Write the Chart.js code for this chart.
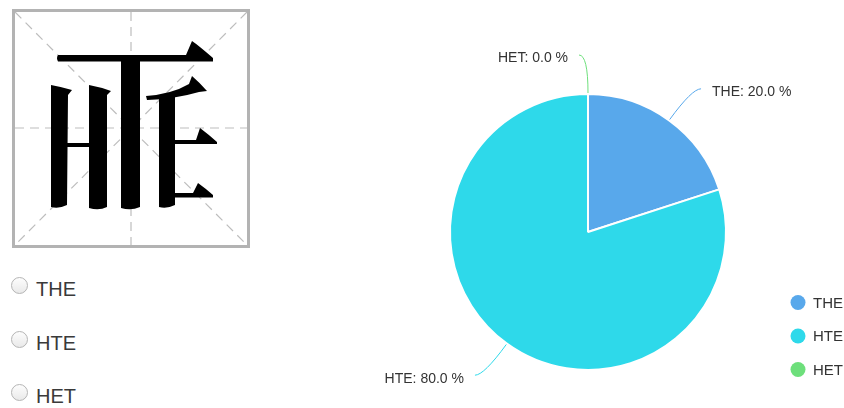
<!DOCTYPE html>
<html>
<head>
<meta charset="utf-8">
<script src="https://cdn.jsdelivr.net/npm/chart.js@4"></script>
<style>
    html, body { margin: 0; padding: 0; background: #fff; }
    body { width: 844px; height: 408px; position: relative; overflow: hidden; font-family: "Liberation Sans", Arial, sans-serif; }
    #glyph { position: absolute; left: 0; top: 0; }
    .option { position: absolute; left: 11px; height: 20px; line-height: 20px; font-size: 20px; color: #3a3a3a; }
    .option input {
        -webkit-appearance: none; appearance: none; margin: 0;
        position: absolute; left: 0; top: -2px; width: 17px; height: 17px;
        border: 1px solid #b5b5b5; border-radius: 50%; box-sizing: border-box;
        background: linear-gradient(#fdfdfd, #e9e9e9);
    }
    .option span { position: absolute; left: 25px; top: 0; white-space: nowrap; }
    #chartBox { position: absolute; left: 310px; top: 0; width: 534px; height: 408px; }
</style>
</head>
<body>
<svg id="glyph" width="260" height="260" viewBox="0 0 260 260">
    <g stroke="#bdbdbd" stroke-width="1.2" stroke-dasharray="9 6" fill="none">
        <line x1="15" y1="12" x2="247" y2="245"/>
        <line x1="247" y1="12" x2="15" y2="245"/>
        <line x1="131" y1="12" x2="131" y2="245"/>
        <line x1="15" y1="128" x2="247" y2="128"/>
    </g>
    <rect x="13.5" y="10.5" width="235" height="236" fill="none" stroke="#b3b3b3" stroke-width="3"/>
    <g fill="#000">
        <!-- top bar with rising serif -->
        <path d="M58,55 L186,55 L192,41 Q198,45 213,58 L213,61.5 L58,61.5 Q56,58 58,55 Z"/>
        <!-- central vertical -->
        <path d="M121,61 L140,61 L140,207 Q131,211 121,208 Z"/>
        <!-- H left -->
        <path d="M51,85 Q62,87 72,90 L68,95 L67,205 Q59,209 51,207 Z"/>
        <!-- H right -->
        <path d="M89,85 Q100,87 111,91 L107,95 L107,207 Q99,211 89,208 Z"/>
        <!-- H crossbar -->
        <rect x="66" y="143" width="24" height="4"/>
        <!-- E vertical -->
        <path d="M159,97 L175,95 L175,205 Q167,209 159,207 Z"/>
        <!-- E top sweep -->
        <path d="M146,96 Q172,94 189,84 L192,76 Q199,82 207,91 L199,92 Q175,99 147,100 Z"/>
        <!-- E middle -->
        <path d="M175,140 L196,140 L200,128 Q208,134 217,142 L217,144 L175,144 Z"/>
        <!-- E bottom -->
        <path d="M175,193 L193,193 L198,183 Q205,188 213,195 L213,197.5 L175,197.5 Z"/>
    </g>
</svg>

<label class="option" style="top:279px;"><input type="radio" name="ans"><span>THE</span></label>
<label class="option" style="top:333px;"><input type="radio" name="ans"><span>HTE</span></label>
<label class="option" style="top:386px;"><input type="radio" name="ans"><span>HET</span></label>

<div id="chartBox"><canvas id="pieChart" width="534" height="408"></canvas></div>

<script>
const categories = ['THE', 'HTE', 'HET'];
const percentValues = [20.0, 80.0, 0.0];
const sliceColors = ['#58a8eb', '#2ed9ea', '#6ddf7b'];

// leader lines + outside labels, drawn from each arc element
const outsideLabels = {
    id: 'outsideLabels',
    afterDatasetsDraw(chart) {
        const ctx = chart.ctx;
        const meta = chart.getDatasetMeta(0);
        ctx.save();
        ctx.font = '14px "Liberation Sans", Arial, sans-serif';
        ctx.textBaseline = 'middle';
        meta.data.forEach((arc, i) => {
            const { x, y, startAngle, endAngle, outerRadius } = arc.getProps(['x', 'y', 'startAngle', 'endAngle', 'outerRadius'], true);
            const mid = (startAngle + endAngle) / 2;
            const cos = Math.cos(mid), sin = Math.sin(mid);
            const right = cos > 1e-6;
            const dir = right ? 1 : -1;
            const p0 = { x: x + cos * (outerRadius + 1), y: y + sin * (outerRadius + 1) };
            const p1 = { x: p0.x + cos * 38, y: p0.y + sin * 38 };
            const p2 = { x: p1.x + dir * 9, y: p1.y };
            ctx.strokeStyle = sliceColors[i];
            ctx.lineWidth = 1;
            ctx.beginPath();
            ctx.moveTo(p0.x, p0.y);
            ctx.quadraticCurveTo(p1.x, p1.y, p2.x, p2.y);
            ctx.stroke();
            ctx.fillStyle = '#333';
            ctx.textAlign = right ? 'left' : 'right';
            ctx.fillText(`${categories[i]}: ${percentValues[i].toFixed(1)} %`, p2.x + dir * 11, p2.y + 3.5);
        });
        ctx.restore();
    }
};

// legend at the lower right, circle markers
const cornerLegend = {
    id: 'cornerLegend',
    afterDraw(chart) {
        const ctx = chart.ctx;
        ctx.save();
        ctx.font = '15px "Liberation Sans", Arial, sans-serif';
        ctx.textBaseline = 'middle';
        ctx.textAlign = 'left';
        categories.forEach((name, i) => {
            const cy = 302.5 + i * 33.5;
            ctx.fillStyle = sliceColors[i];
            ctx.beginPath();
            ctx.arc(488, cy, 7.5, 0, Math.PI * 2);
            ctx.fill();
            ctx.fillStyle = '#333';
            ctx.fillText(name, 503, cy + 1);
        });
        ctx.restore();
    }
};

new Chart(document.getElementById('pieChart').getContext('2d'), {
    type: 'pie',
    data: {
        labels: categories,
        datasets: [{
            data: percentValues,
            backgroundColor: sliceColors,
            borderColor: '#ffffff',
            borderWidth: 2
        }]
    },
    options: {
        responsive: false,
        devicePixelRatio: 1,
        animation: false,
        layout: { padding: { top: 93, bottom: 37, left: 139, right: 117 } },
        plugins: {
            legend: { display: false },
            tooltip: { enabled: false }
        }
    },
    plugins: [outsideLabels, cornerLegend]
});
</script>
</body>
</html>
